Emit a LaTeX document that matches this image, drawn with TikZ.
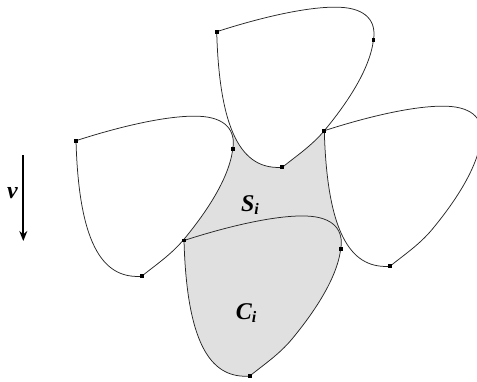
\documentclass[tikz,border=0pt]{standalone}
\usepackage{fontspec}
\setmainfont{Liberation Serif}
\usetikzlibrary{arrows.meta}
\newcommand\leafshape{(0,0) .. controls (40,-13) and (90,-25.5) .. (122,-24.5) .. controls (150,-23.6) and (160,-10) .. (156.7,8.6) .. controls (153,38) and (130,72) .. (107.6,99) .. controls (95,114) and (80,124) .. (65.6,135.6) .. controls (30,138) and (3,110) .. cycle}
\definecolor{leafgray}{gray}{0.88}
\begin{document}
\begin{tikzpicture}[x=1pt,y=-1pt,
  outline/.style={draw=black!85,line width=0.75pt},
  dot/.style={rectangle,fill=black,inner sep=0pt,minimum size=3.8pt},
  lbl/.style={font=\fontsize{24}{28}\selectfont\bfseries\itshape,inner sep=0pt}]
\useasboundingbox (0,0) rectangle (477,381);
\clip (0,0) rectangle (477,381);
% lattice origins of the four leaves
\coordinate (T) at (216.7,31.7);
\coordinate (R) at (324.3,130.7);
\coordinate (L) at (76,140.7);
\coordinate (B) at (184,240.5);
% gray hole S_i
\fill[leafgray] (B) -- (232.7,149.3) -- (230,133) -- (282.3,167.3)
  .. controls (296.7,155.7) and (311.7,145.7) .. (R) -- (332,180) -- (343,228) -- cycle;
% leaves
\foreach \p in {T,L,R}{
  \fill[white,shift={(\p)}] \leafshape;
}
\fill[leafgray,shift={(B)}] \leafshape;
\foreach \p in {T,L,R,B}{
  \path[outline,shift={(\p)}] \leafshape;
  \path[shift={(\p)}] (0,0) node[dot] {} (156.7,8.6) node[dot] {} (65.6,135.6) node[dot] {};
}
% labels
\node[lbl] (S) at (250,205) {S\raisebox{-0.35ex}{\fontsize{16}{18}\selectfont i}};
\node[lbl] (C) at (246,313) {C\raisebox{-0.35ex}{\fontsize{16}{18}\selectfont i}};
% velocity arrow
\coordinate (v1) at (23.3,155);
\coordinate (v2) at (23.3,241);
\draw[line width=2.2pt,-{Stealth[length=10pt,width=8pt]}] (v1) -- (v2);
\node[lbl] (v) at (12.5,193) {v};
\end{tikzpicture}
\end{document}
